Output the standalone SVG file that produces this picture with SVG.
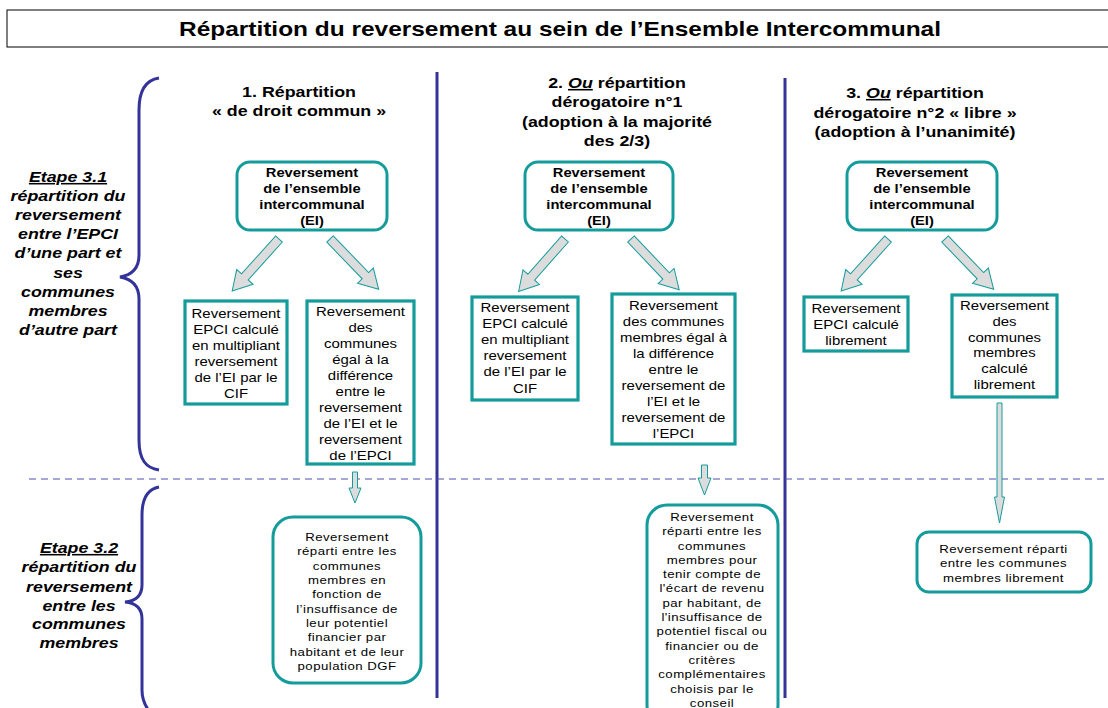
<svg xmlns="http://www.w3.org/2000/svg" xmlns:xlink="http://www.w3.org/1999/xlink" width="1108" height="708" viewBox="0 0 1108 708">
<style>
text{font-family:"Liberation Sans",Arial,sans-serif;fill:#000;text-anchor:middle}
.title{font-size:21px;font-weight:bold}
.head{font-size:15.5px;font-weight:bold}
.lbl{font-size:15.5px;font-weight:bold;font-style:italic}
.tb{font-size:12.8px;font-weight:bold}
.mb{font-size:13px}
.bb{font-size:11.5px;letter-spacing:0.4px}
.rbox{fill:#fff;stroke:#149c9c;stroke-width:3}
.box{fill:#fff;stroke:#149c9c;stroke-width:3.2}
.arr{fill:#dcdcdc;stroke:#149c9c;stroke-width:1}
.brace{fill:none;stroke:#333399;stroke-width:3}
.div{stroke:#333399;stroke-width:3}
.dash{stroke:#5050b0;stroke-width:1.2;stroke-dasharray:7 5}
.u{text-decoration:underline}
</style>
<defs>
<path id="ar" d="M0,-4.5 H51 V-11 L70,0 L51,11 V4.5 H0 Z"/>
</defs>
<rect width="1108" height="708" fill="#fff"/>

<g id="title">
<rect x="7" y="10" width="1110" height="37" fill="#fff" stroke="#000" stroke-width="1"/>
<text class="title" x="560" y="36" textLength="762" lengthAdjust="spacingAndGlyphs">Répartition du reversement au sein de l’Ensemble Intercommunal</text>
</g>

<g id="separators">
<line class="div" x1="437" y1="72" x2="437" y2="698"/>
<line class="div" x1="785" y1="78" x2="785" y2="698"/>
<line class="dash" x1="29" y1="479" x2="1108" y2="479"/>
<path class="brace" d="M159,78 C146,80 139,90 139,110 L139,255 C139,268 132,275 120,277 C132,279 139,286 139,299 L139,440 C139,460 146,468 159,470"/>
<path class="brace" d="M159,487 C148,489 142,497 142,515 L142,585 C142,596 136,601 125,602 C136,603 142,608 142,619 L142,690 C142,700 145,706 150,712"/>
</g>

<g id="label-etape31" transform="translate(68 0) scale(1.15 1)">
<text class="lbl"><tspan x="0" y="182" class="u">Etape 3.1</tspan><tspan x="0" y="201">répartition du</tspan><tspan x="0" y="220">reversement</tspan><tspan x="0" y="239">entre l’EPCI</tspan><tspan x="0" y="258">d’une part et</tspan><tspan x="0" y="278">ses</tspan><tspan x="0" y="297">communes</tspan><tspan x="0" y="316">membres</tspan><tspan x="0" y="335">d’autre part</tspan></text>
</g>
<g id="label-etape32" transform="translate(79 0) scale(1.15 1)">
<text class="lbl"><tspan x="0" y="553" class="u">Etape 3.2</tspan><tspan x="0" y="572">répartition du</tspan><tspan x="0" y="592">reversement</tspan><tspan x="0" y="611">entre les</tspan><tspan x="0" y="629">communes</tspan><tspan x="0" y="648">membres</tspan></text>
</g>

<g id="heading1" transform="translate(299 0) scale(1.15 1)">
<text class="head"><tspan x="0" y="97">1. Répartition</tspan><tspan x="0" y="116">« de droit commun »</tspan></text>
</g>
<g id="heading2" transform="translate(617 0) scale(1.15 1)">
<text class="head"><tspan x="0" y="88">2. <tspan class="u" font-style="italic">Ou</tspan> répartition</tspan><tspan x="0" y="107">dérogatoire n°1</tspan><tspan x="0" y="127">(adoption à la majorité</tspan><tspan x="0" y="146">des 2/3)</tspan></text>
</g>
<g id="heading3" transform="translate(915 0) scale(1.15 1)">
<text class="head"><tspan x="0" y="98">3. <tspan class="u" font-style="italic">Ou</tspan> répartition</tspan><tspan x="0" y="118">dérogatoire n°2 « libre »</tspan><tspan x="0" y="137">(adoption à l’unanimité)</tspan></text>
</g>

<g id="connectors">
<use xlink:href="#ar" class="arr" transform="translate(279 239) rotate(132)"/>
<use xlink:href="#ar" class="arr" transform="translate(330 239) rotate(46)"/>
<use xlink:href="#ar" class="arr" transform="translate(565 239) rotate(131.5)"/>
<use xlink:href="#ar" class="arr" transform="translate(631 239) rotate(46.5)"/>
<use xlink:href="#ar" class="arr" transform="translate(888 239) rotate(132)"/>
<use xlink:href="#ar" class="arr" transform="translate(945 239) rotate(46)"/>
<path class="arr" d="M352.5,472 H357.5 V488 H361 L355,503 L349,488 H352.5 Z"/>
<path class="arr" d="M701.5,465 H707.5 V478 H711 L704.5,495 L698,478 H701.5 Z"/>
<path class="arr" d="M997,403 H1002 V497 H1004.5 L999.5,523 L994.5,497 H997 Z"/>
</g>

<g id="ei1">
<rect class="rbox" x="237" y="162" width="150" height="68" rx="13"/>
<g transform="translate(312 0) scale(1.15 1)"><text class="tb"><tspan x="0" y="177">Reversement</tspan><tspan x="0" y="193">de l’ensemble</tspan><tspan x="0" y="209">intercommunal</tspan><tspan x="0" y="225">(EI)</tspan></text></g>
</g>
<g id="ei2">
<rect class="rbox" x="525" y="162" width="148" height="68" rx="13"/>
<g transform="translate(599 0) scale(1.15 1)"><text class="tb"><tspan x="0" y="177">Reversement</tspan><tspan x="0" y="193">de l’ensemble</tspan><tspan x="0" y="209">intercommunal</tspan><tspan x="0" y="225">(EI)</tspan></text></g>
</g>
<g id="ei3">
<rect class="rbox" x="847" y="162" width="150" height="68" rx="13"/>
<g transform="translate(922 0) scale(1.15 1)"><text class="tb"><tspan x="0" y="177">Reversement</tspan><tspan x="0" y="193">de l’ensemble</tspan><tspan x="0" y="209">intercommunal</tspan><tspan x="0" y="225">(EI)</tspan></text></g>
</g>

<g id="epci1">
<rect class="box" x="185" y="301" width="102" height="103"/>
<g transform="translate(236 0) scale(1.15 1)"><text class="mb"><tspan x="0" y="318">Reversement</tspan><tspan x="0" y="334">EPCI calculé</tspan><tspan x="0" y="350">en multipliant</tspan><tspan x="0" y="366">reversement</tspan><tspan x="0" y="382">de l’EI par le</tspan><tspan x="0" y="398">CIF</tspan></text></g>
</g>
<g id="communes1">
<rect class="box" x="307" y="301" width="107" height="163"/>
<g transform="translate(360.5 0) scale(1.15 1)"><text class="mb"><tspan x="0" y="316">Reversement</tspan><tspan x="0" y="332">des</tspan><tspan x="0" y="348">communes</tspan><tspan x="0" y="364">égal à la</tspan><tspan x="0" y="380">différence</tspan><tspan x="0" y="396">entre le</tspan><tspan x="0" y="412">reversement</tspan><tspan x="0" y="428">de l’EI et le</tspan><tspan x="0" y="444">reversement</tspan><tspan x="0" y="460">de l’EPCI</tspan></text></g>
</g>
<g id="epci2">
<rect class="box" x="472" y="297" width="106" height="103"/>
<g transform="translate(525 0) scale(1.15 1)"><text class="mb"><tspan x="0" y="312">Reversement</tspan><tspan x="0" y="328">EPCI calculé</tspan><tspan x="0" y="344">en multipliant</tspan><tspan x="0" y="360">reversement</tspan><tspan x="0" y="376">de l’EI par le</tspan><tspan x="0" y="393">CIF</tspan></text></g>
</g>
<g id="communes2">
<rect class="box" x="612" y="294" width="123" height="150"/>
<g transform="translate(673.5 0) scale(1.15 1)"><text class="mb"><tspan x="0" y="310">Reversement</tspan><tspan x="0" y="326">des communes</tspan><tspan x="0" y="342">membres égal à</tspan><tspan x="0" y="358">la différence</tspan><tspan x="0" y="374">entre le</tspan><tspan x="0" y="390">reversement de</tspan><tspan x="0" y="406">l’EI et le</tspan><tspan x="0" y="422">reversement de</tspan><tspan x="0" y="438">l’EPCI</tspan></text></g>
</g>
<g id="epci3">
<rect class="box" x="804" y="297" width="104" height="54"/>
<g transform="translate(856 0) scale(1.15 1)"><text class="mb"><tspan x="0" y="313">Reversement</tspan><tspan x="0" y="329">EPCI calculé</tspan><tspan x="0" y="345">librement</tspan></text></g>
</g>
<g id="communes3">
<rect class="box" x="952" y="295" width="105" height="102"/>
<g transform="translate(1004.5 0) scale(1.15 1)"><text class="mb"><tspan x="0" y="310">Reversement</tspan><tspan x="0" y="326">des</tspan><tspan x="0" y="342">communes</tspan><tspan x="0" y="357">membres</tspan><tspan x="0" y="373">calculé</tspan><tspan x="0" y="389">librement</tspan></text></g>
</g>

<g id="final1">
<rect class="rbox" x="273" y="517" width="148" height="166" rx="20"/>
<g transform="translate(347 0) scale(1.15 1)"><text class="bb"><tspan x="0" y="541">Reversement</tspan><tspan x="0" y="555.3">réparti entre les</tspan><tspan x="0" y="569.7">communes</tspan><tspan x="0" y="584">membres en</tspan><tspan x="0" y="598.3">fonction de</tspan><tspan x="0" y="612.7">l’insuffisance de</tspan><tspan x="0" y="627">leur potentiel</tspan><tspan x="0" y="641.3">financier par</tspan><tspan x="0" y="655.7">habitant et de leur</tspan><tspan x="0" y="670">population DGF</tspan></text></g>
</g>
<g id="final2">
<rect class="rbox" x="647" y="505" width="131" height="220" rx="20"/>
<g transform="translate(712 0) scale(1.15 1)"><text class="bb"><tspan x="0" y="521">Reversement</tspan><tspan x="0" y="535.3">réparti entre les</tspan><tspan x="0" y="549.6">communes</tspan><tspan x="0" y="564">membres pour</tspan><tspan x="0" y="578.2">tenir compte de</tspan><tspan x="0" y="592.5">l'écart de revenu</tspan><tspan x="0" y="606.8">par habitant, de</tspan><tspan x="0" y="621.2">l'insuffisance de</tspan><tspan x="0" y="635.5">potentiel fiscal ou</tspan><tspan x="0" y="649.8">financier ou de</tspan><tspan x="0" y="664">critères</tspan><tspan x="0" y="678.4">complémentaires</tspan><tspan x="0" y="692.7">choisis par le</tspan><tspan x="0" y="707">conseil</tspan></text></g>
</g>
<g id="final3">
<rect class="rbox" x="917" y="532" width="174" height="60" rx="12"/>
<g transform="translate(1003.5 0) scale(1.15 1)"><text class="bb"><tspan x="0" y="553">Reversement réparti</tspan><tspan x="0" y="567.5">entre les communes</tspan><tspan x="0" y="582">membres librement</tspan></text></g>
</g>
</svg>
